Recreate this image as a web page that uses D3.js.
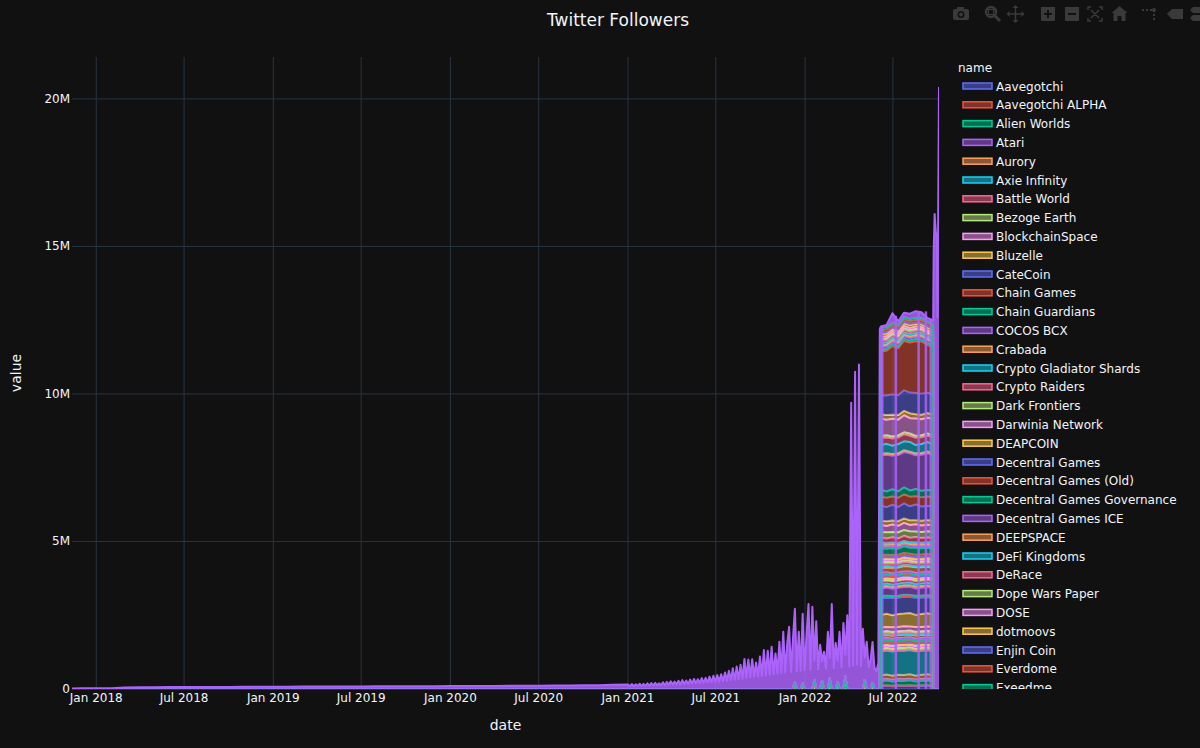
<!DOCTYPE html>
<html>
<head>
<meta charset="utf-8">
<script src="https://cdn.jsdelivr.net/npm/d3@7"></script>
<style>
  body { margin: 0; background: #111111; }
  svg { display: block; font-family: Verdana, "DejaVu Sans", sans-serif; }
</style>
</head>
<body>
<svg id="chart" width="1200" height="748"></svg>
<script>
const palette = ["#636efa", "#EF553B", "#00cc96", "#ab63fa", "#FFA15A", "#19d3f3", "#FF6692", "#B6E880", "#FF97FF", "#FECB52"];

const names = [
  "Aavegotchi", "Aavegotchi ALPHA", "Alien Worlds", "Atari", "Aurory", "Axie Infinity", "Battle World",
  "Bezoge Earth", "BlockchainSpace", "Bluzelle", "CateCoin", "Chain Games", "Chain Guardians", "COCOS BCX",
  "Crabada", "Crypto Gladiator Shards", "Crypto Raiders", "Dark Frontiers", "Darwinia Network", "DEAPCOIN",
  "Decentral Games", "Decentral Games (Old)", "Decentral Games Governance", "Decentral Games ICE", "DEEPSPACE",
  "DeFi Kingdoms", "DeRace", "Dope Wars Paper", "DOSE", "dotmoovs", "Enjin Coin", "Everdome", "Exeedme",
  "Faraland", "Gala", "Gameswap", "Gods Unchained", "Guild of Guardians", "Heroes of Mavia", "Illuvium",
  "Kryptomon", "League of Kingdoms", "Lympo", "Mines of Dalarnia", "Mobox", "My Neighbor Alice", "Ninneko",
  "Ookeenga", "Pegaxy", "Phantom Galaxies", "Polychain Monsters", "Radio Caca", "RFOX", "Sipher",
  "Smooth Love Potion", "Splinterlands", "Star Atlas", "Star Atlas DAO", "STEPN", "Sweat Economy",
  "The Sandbox", "Thetan Arena", "UFO Gaming", "Ultra", "Victoria VR", "Vulcan Forged", "WAX",
  "Wilder World", "X World Games", "XANA", "Yield Guild Games", "Yooshi", "Zed Run", "Zoo"
];

// followers in thousands
// early years: only the last series reports, one value per month
const lowStart = "2017-11-12";
const lowVals = [20, 22, 25, 28, 55, 60, 62, 65, 66, 68, 70, 72, 74, 75, 78, 80, 82, 84, 85, 86,
  88, 90, 92, 94, 95, 96, 98, 100, 102, 104, 106, 108, 110, 115, 120, 125, 130, 140];

// 2021 - mid 2022: spiky values every 4 days
const spikeStart = "2021-01-01";
const spikeVals = [
  150, 90, 170, 95, 160, 100, 180, 95, 175, 105,
  190, 110, 200, 115, 210, 120, 195, 125, 230, 130,
  240, 140, 260, 150, 250, 155, 280, 160, 300, 170,
  290, 175, 320, 185, 340, 190, 330, 200, 370, 210,
  380, 220, 420, 230, 450, 240, 470, 250, 500, 260,
  560, 280, 620, 300, 700, 310, 760, 330, 820, 350,
  1020, 380, 1000, 400, 1010, 420, 900, 430, 1100, 440,
  1320, 460, 1300, 480, 1430, 500, 1200, 520, 1600, 540,
  1940, 560, 1500, 2110, 580, 1700, 2500, 600, 1940, 620,
  2370, 640, 1800, 2880, 650, 2790, 660, 2300, 670, 1500,
  680, 1260, 690, 1940, 700, 2880, 710, 1560, 720, 1940,
  730, 2240, 740, 2500, 760, 9700, 800, 10750, 820, 11000,
  780, 2040, 760, 1600, 740, 1000, 1390, 720, 600, 880
];

// summer 2022: all projects reporting
const blockDates = ["2022-06-06", "2022-06-18", "2022-06-30", "2022-07-12", "2022-07-24",
  "2022-08-05", "2022-08-17", "2022-08-29", "2022-09-10", "2022-09-22"];
const blockVals = [
  [95, 106, 92, 105, 100, 110, 94, 104, 108, 100],
  [21, 19, 22, 19, 21, 18, 22, 19, 19, 20],
  [143, 160, 138, 158, 150, 165, 140, 155, 162, 150],
  [63, 56, 65, 57, 62, 55, 64, 58, 56, 60],
  [134, 149, 129, 147, 140, 154, 131, 145, 151, 140],
  [812, 818, 822, 815, 825, 820, 828, 818, 815, 820],
  [32, 28, 33, 28, 31, 27, 32, 29, 28, 30],
  [57, 64, 55, 63, 60, 66, 56, 62, 65, 60],
  [84, 75, 87, 76, 83, 73, 85, 77, 75, 80],
  [48, 53, 46, 52, 50, 55, 47, 52, 54, 50],
  [42, 37, 43, 38, 41, 36, 43, 39, 37, 40],
  [57, 64, 55, 63, 60, 66, 56, 62, 65, 60],
  [53, 47, 54, 48, 52, 46, 53, 48, 47, 50],
  [57, 64, 55, 63, 60, 66, 56, 62, 65, 60],
  [105, 93, 108, 95, 103, 92, 107, 97, 94, 100],
  [19, 21, 18, 21, 20, 22, 19, 21, 22, 20],
  [53, 47, 54, 48, 52, 46, 53, 48, 47, 50],
  [57, 64, 55, 63, 60, 66, 56, 62, 65, 60],
  [158, 140, 162, 143, 155, 138, 160, 145, 141, 150],
  [415, 445, 405, 440, 430, 455, 410, 440, 450, 430],
  [575, 545, 585, 548, 570, 540, 580, 552, 545, 560],
  [28, 32, 27, 31, 30, 33, 28, 31, 32, 30],
  [42, 37, 43, 38, 41, 36, 43, 39, 37, 40],
  [250, 272, 243, 270, 260, 280, 246, 268, 276, 260],
  [63, 56, 65, 57, 62, 55, 64, 58, 56, 60],
  [76, 86, 73, 84, 80, 88, 75, 83, 87, 80],
  [105, 93, 108, 95, 103, 92, 107, 97, 94, 100],
  [28, 32, 27, 31, 30, 33, 28, 31, 32, 30],
  [53, 47, 54, 48, 52, 46, 53, 48, 47, 50],
  [28, 32, 27, 31, 30, 33, 28, 31, 32, 30],
  [42, 37, 43, 38, 41, 36, 43, 39, 37, 40],
  [38, 43, 37, 42, 40, 44, 37, 41, 43, 40],
  [32, 28, 33, 28, 31, 27, 32, 29, 28, 30],
  [57, 64, 55, 63, 60, 66, 56, 62, 65, 60],
  [189, 168, 194, 171, 186, 165, 192, 174, 169, 180],
  [38, 43, 37, 42, 40, 44, 37, 41, 43, 40],
  [95, 84, 97, 86, 93, 83, 96, 87, 85, 90],
  [57, 64, 55, 63, 60, 66, 56, 62, 65, 60],
  [74, 65, 76, 67, 72, 64, 75, 68, 66, 70],
  [38, 43, 37, 42, 40, 44, 37, 41, 43, 40],
  [63, 56, 65, 57, 62, 55, 64, 58, 56, 60],
  [67, 75, 64, 74, 70, 77, 65, 72, 76, 70],
  [231, 205, 237, 209, 227, 202, 235, 213, 207, 220],
  [57, 64, 55, 63, 60, 66, 56, 62, 65, 60],
  [74, 65, 76, 67, 72, 64, 75, 68, 66, 70],
  [48, 53, 46, 52, 50, 55, 47, 52, 54, 50],
  [178, 159, 184, 162, 175, 156, 182, 165, 160, 170],
  [190, 214, 184, 210, 200, 220, 187, 207, 216, 200],
  [241, 215, 248, 219, 237, 211, 245, 223, 216, 230],
  [143, 160, 138, 158, 150, 165, 140, 155, 162, 150],
  [520, 475, 535, 480, 515, 470, 530, 485, 478, 500],
  [288, 318, 278, 314, 300, 327, 282, 310, 322, 300],
  [241, 215, 248, 219, 237, 211, 245, 223, 216, 230],
  [1160, 1240, 1130, 1230, 1200, 1260, 1145, 1220, 1250, 1200],
  [63, 56, 65, 57, 62, 55, 64, 58, 56, 60],
  [288, 318, 278, 314, 300, 327, 282, 310, 322, 300],
  [241, 215, 248, 219, 237, 211, 245, 223, 216, 230],
  [67, 75, 64, 74, 70, 77, 65, 72, 76, 70],
  [585, 525, 600, 530, 578, 520, 590, 540, 528, 560],
  [143, 160, 138, 158, 150, 165, 140, 155, 162, 150],
  [650, 665, 690, 670, 695, 700, 720, 715, 690, 680],
  [1480, 1520, 1640, 1600, 1680, 1700, 1760, 1770, 1620, 1600],
  [74, 65, 76, 67, 72, 64, 75, 68, 66, 70],
  [76, 86, 73, 84, 80, 88, 75, 83, 87, 80],
  [63, 56, 65, 57, 62, 55, 64, 58, 56, 60],
  [67, 75, 64, 74, 70, 77, 65, 72, 76, 70],
  [84, 75, 87, 76, 83, 73, 85, 77, 75, 80],
  [57, 64, 55, 63, 60, 66, 56, 62, 65, 60],
  [74, 65, 76, 67, 72, 64, 75, 68, 66, 70],
  [86, 96, 82, 95, 90, 99, 84, 93, 97, 90],
  [63, 56, 65, 57, 62, 55, 64, 58, 56, 60],
  [76, 86, 73, 84, 80, 88, 75, 83, 87, 80],
  [74, 65, 76, 67, 72, 64, 75, 68, 66, 70]
];
const topBlock = [60, 80, 320, 120, 150, 180, 220, 200, 120, 120];

// dates where only the last series reports (block edge + final spikes)
const edgeDates = ["2022-06-04", "2022-09-23", "2022-09-25", "2022-09-27", "2022-09-29", "2022-10-01", "2022-10-04"];
const edgeVals = [12200, 14800, 16100, 15600, 15200, 12600, 20400];

// small spikes of a second series in 2021-22
const greenDates = ["2021-12-11", "2021-12-27", "2022-01-20", "2022-02-05", "2022-02-21",
  "2022-03-09", "2022-03-25", "2022-05-04", "2022-05-20"];
const greenVals = [220, 180, 300, 260, 350, 240, 420, 300, 200];

// dates inside the block where only the last series reports
const gapDates = ["2022-06-09", "2022-07-07", "2022-08-23", "2022-09-07", "2022-09-17"];
const gapTops = [12250, 12650, 12800, 12800, 12550];

const yTicks = [0, 5e6, 10e6, 15e6, 20e6];

// ---- build the stacked table
const parse = d3.utcParse("%Y-%m-%d");
const series = names.map(() => new Map());
const lastSeries = series[names.length - 1];

blockVals.forEach((row, i) => row.forEach((v, j) => series[i].set(+parse(blockDates[j]), v * 1000)));
greenDates.forEach((d, j) => series[7].set(+parse(d), greenVals[j] * 1000));

const lowTimes = [parse(lowStart), ...d3.utcMonth.range(parse("2017-12-01"), parse("2021-01-01"))];
lowTimes.forEach((t, j) => lastSeries.set(+t, lowVals[j] * 1000));
spikeVals.forEach((v, j) => lastSeries.set(+d3.utcDay.offset(parse(spikeStart), 4 * j), v * 1000));
topBlock.forEach((v, j) => lastSeries.set(+parse(blockDates[j]), v * 1000));
edgeDates.forEach((d, j) => lastSeries.set(+parse(d), edgeVals[j] * 1000));

const times = Array.from(new Set(series.flatMap(m => [...m.keys()]))).sort((a, b) => a - b);
const rows = times.map(t => {
  const r = { t: new Date(t) };
  names.forEach((n, i) => { r[n] = series[i].get(t) || 0; });
  return r;
});
const stacked = d3.stack().keys(names)(rows);

// ---- layout
const W = 1200, H = 748;
const pL = 72, pR = 939, pT = 57, pB = 689;
const svg = d3.select("#chart");
svg.append("rect").attr("width", W).attr("height", H).attr("fill", "#111111");

const x = d3.scaleUtc().domain([parse("2017-11-12"), parse("2022-10-04")]).range([pL, pR]);
const y = d3.scaleLinear().domain([0, 21.42e6]).range([pB, pT]);

const gridColor = "#283442";
const textColor = "#f2f5fa";

const xTicks = d3.utcMonth.every(6).range(parse("2018-01-01"), parse("2022-10-01"));
svg.append("g").selectAll("line").data(xTicks).join("line")
  .attr("x1", d => x(d)).attr("x2", d => x(d))
  .attr("y1", pT).attr("y2", pB)
  .attr("stroke", gridColor).attr("stroke-width", 1);
svg.append("g").selectAll("line").data(yTicks.slice(1)).join("line")
  .attr("x1", pL).attr("x2", pR)
  .attr("y1", d => y(d)).attr("y2", d => y(d))
  .attr("stroke", gridColor).attr("stroke-width", 1);
svg.append("line").attr("x1", pL).attr("x2", pR).attr("y1", y(0)).attr("y2", y(0))
  .attr("stroke", gridColor).attr("stroke-width", 2);

svg.append("clipPath").attr("id", "plotclip")
  .append("rect").attr("x", pL).attr("y", pT).attr("width", pR - pL).attr("height", pB - pT);

const plot = svg.append("g").attr("clip-path", "url(#plotclip)");
const area = d3.area().x(d => x(d.data.t)).y0(d => y(d[0])).y1(d => y(d[1]));
const line = d3.line().x(d => x(d.data.t)).y(d => y(d[1]));

stacked.forEach((s, i) => {
  const c = palette[i % 10];
  const isLast = i === names.length - 1;
  plot.append("path").attr("d", area(s))
    .attr("fill", c).attr("fill-opacity", isLast ? 0.85 : 0.5);
  plot.append("path").attr("d", line(s))
    .attr("fill", "none").attr("stroke", c).attr("stroke-width", 2)
    .attr("stroke-linejoin", "round");
});

plot.append("g").selectAll("rect").data(gapDates).join("rect")
  .attr("x", d => x(parse(d)) - 1.3).attr("width", 2.6)
  .attr("y", (d, i) => y(gapTops[i] * 1000))
  .attr("height", (d, i) => y(0) - y(gapTops[i] * 1000))
  .attr("fill", "#ab63fa").attr("fill-opacity", 0.85);

// ---- axes labels
const fmtX = d3.utcFormat("%b %Y");
svg.append("g").selectAll("text").data(xTicks).join("text")
  .attr("x", d => x(d)).attr("y", 702)
  .attr("text-anchor", "middle").attr("font-size", 12).attr("fill", textColor)
  .text(d => fmtX(d));

const fmtY = d3.format("~s");
svg.append("g").selectAll("text").data(yTicks).join("text")
  .attr("x", 70).attr("y", d => y(d) + 4)
  .attr("text-anchor", "end").attr("font-size", 12).attr("fill", textColor)
  .text(d => fmtY(d));

svg.append("text").attr("x", (pL + pR) / 2).attr("y", 730)
  .attr("text-anchor", "middle").attr("font-size", 14).attr("fill", textColor).text("date");
svg.append("text").attr("transform", "translate(21,373) rotate(-90)")
  .attr("text-anchor", "middle").attr("font-size", 14).attr("fill", textColor).text("value");

svg.append("text").attr("x", 618).attr("y", 26)
  .attr("text-anchor", "middle").attr("font-size", 17).attr("fill", textColor).text("Twitter Followers");

// ---- legend (only the entries that fit in the box are drawn, the rest scroll out of view)
const legTop = 86, legStep = 18.8, legBottom = 689;
const shown = names.filter((d, i) => legTop + i * legStep - 6 < legBottom);
svg.append("clipPath").attr("id", "legclip")
  .append("rect").attr("x", 942).attr("y", 55).attr("width", 258).attr("height", legBottom - 55);
const legend = svg.append("g").attr("clip-path", "url(#legclip)");
legend.append("text").attr("x", 958).attr("y", 72)
  .attr("font-size", 12).attr("fill", textColor).text("name");
const item = legend.selectAll("g.item").data(shown).join("g")
  .attr("class", "item")
  .attr("transform", (d, i) => `translate(0,${legTop + i * legStep})`);
item.append("rect").attr("x", 963).attr("y", -3).attr("width", 29).attr("height", 6)
  .attr("fill", (d, i) => palette[i % 10]).attr("fill-opacity", 0.5)
  .attr("stroke", (d, i) => palette[i % 10]).attr("stroke-width", 1.5);
item.append("text").attr("x", 996).attr("y", 4.5)
  .attr("font-size", 12).attr("fill", textColor).text(d => d);

// ---- modebar (faint icons)
const mb = svg.append("g").attr("fill", "#3a3a3a").attr("stroke", "#3a3a3a");
// camera
mb.append("rect").attr("x", 953).attr("y", 9).attr("width", 16).attr("height", 11).attr("rx", 2).attr("stroke", "none");
mb.append("rect").attr("x", 957).attr("y", 7).attr("width", 7).attr("height", 3).attr("stroke", "none");
mb.append("circle").attr("cx", 961).attr("cy", 14.5).attr("r", 3.5).attr("fill", "#111").attr("stroke", "none");
mb.append("circle").attr("cx", 961).attr("cy", 14.5).attr("r", 2).attr("stroke", "none");
// zoom
mb.append("circle").attr("cx", 991).attr("cy", 12).attr("r", 5).attr("fill", "none").attr("stroke-width", 2.5);
mb.append("rect").attr("x", 988.5).attr("y", 9.5).attr("width", 5).attr("height", 5).attr("fill", "none").attr("stroke-width", 1);
mb.append("line").attr("x1", 995).attr("y1", 16).attr("x2", 1000).attr("y2", 21).attr("stroke-width", 3);
// pan
mb.append("line").attr("x1", 1015.5).attr("y1", 6).attr("x2", 1015.5).attr("y2", 22).attr("stroke-width", 1.5);
mb.append("line").attr("x1", 1007.5).attr("y1", 14).attr("x2", 1023.5).attr("y2", 14).attr("stroke-width", 1.5);
mb.append("path").attr("stroke", "none")
  .attr("d", "M1015.5,5 l3,3 h-6z M1015.5,23 l3,-3 h-6z M1006.5,14 l3,-3 v6z M1024.5,14 l-3,-3 v6z");
// zoom in / out
mb.append("rect").attr("x", 1041).attr("y", 7).attr("width", 14).attr("height", 14).attr("rx", 1).attr("stroke", "none");
mb.append("path").attr("stroke", "#111").attr("stroke-width", 2).attr("d", "M1044,14h8M1048,10v8");
mb.append("rect").attr("x", 1065).attr("y", 7).attr("width", 14).attr("height", 14).attr("rx", 1).attr("stroke", "none");
mb.append("path").attr("stroke", "#111").attr("stroke-width", 2).attr("d", "M1068,14h8");
// autoscale
mb.append("path").attr("fill", "none").attr("stroke-width", 1.5)
  .attr("d", "M1088,10v-3h3M1099,7h3v3M1102,18v3h-3M1091,21h-3v-3M1091,10l8,8M1099,10l-8,8");
// home
mb.append("path").attr("stroke", "none").attr("d", "M1119.5,6 l8,7 h-2 v8 h-4 v-5 h-4 v5 h-4 v-8 h-2z");
// spike lines
mb.append("path").attr("fill", "none").attr("stroke-width", 2).attr("stroke-dasharray", "2,2")
  .attr("d", "M1142,10h12M1154,10v12");
mb.append("circle").attr("cx", 1154).attr("cy", 10).attr("r", 2).attr("stroke", "none");
// hover closest
mb.append("path").attr("stroke", "none").attr("d", "M1167,14 l5,-5 h11 v10 h-11z");
// hover compare
mb.append("path").attr("stroke", "none").attr("d", "M1190,10 l3,-3 h8 v6 h-8z M1190,18 l3,-3 h8 v6 h-8z");
</script>
</body>
</html>
